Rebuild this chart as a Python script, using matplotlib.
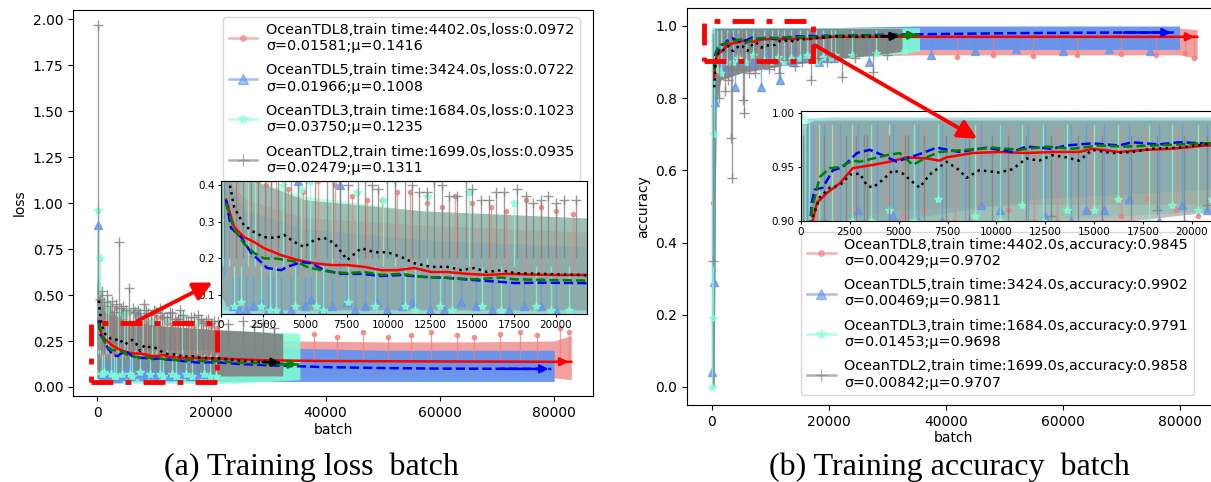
"""Training loss / accuracy per batch for the OceanTDL variants."""

import matplotlib.pyplot as plt
from matplotlib.lines import Line2D
from matplotlib.patches import Rectangle, FancyArrowPatch

plt.rcParams['font.family'] = ['DejaVu Sans']

# ---------------- data ----------------
names = ['OceanTDL8', 'OceanTDL5', 'OceanTDL3', 'OceanTDL2']
loss_labels = [
    'OceanTDL8,train time:4402.0s,loss:0.0972\nσ=0.01581;μ=0.1416',
    'OceanTDL5,train time:3424.0s,loss:0.0722\nσ=0.01966;μ=0.1008',
    'OceanTDL3,train time:1684.0s,loss:0.1023\nσ=0.03750;μ=0.1235',
    'OceanTDL2,train time:1699.0s,loss:0.0935\nσ=0.02479;μ=0.1311',
]
acc_labels = [
    'OceanTDL8,train time:4402.0s,accuracy:0.9845\nσ=0.00429;μ=0.9702',
    'OceanTDL5,train time:3424.0s,accuracy:0.9902\nσ=0.00469;μ=0.9811',
    'OceanTDL3,train time:1684.0s,accuracy:0.9791\nσ=0.01453;μ=0.9698',
    'OceanTDL2,train time:1699.0s,accuracy:0.9858\nσ=0.00842;μ=0.9707',
]

# loss: spread of the raw per-batch values (band) -------------------------
loss8_band_x = [0, 300, 1500, 5000, 12000, 22000, 35000, 50000, 65000, 80000, 83000]
loss8_band_lo = [0.06, 0.06, 0.05, 0.05, 0.05, 0.05, 0.05, 0.05, 0.05, 0.05, 0.04]
loss8_band_hi = [0.55, 0.42, 0.36, 0.31, 0.29, 0.27, 0.25, 0.245, 0.245, 0.25, 0.28]
loss5_band_x = [0, 300, 1500, 5000, 12000, 22000, 35000, 50000, 65000, 80000]
loss5_band_lo = [0.05, 0.04, 0.03, 0.03, 0.03, 0.03, 0.03, 0.03, 0.03, 0.03]
loss5_band_hi = [0.6, 0.42, 0.33, 0.28, 0.25, 0.23, 0.21, 0.2, 0.2, 0.2]
loss3_band_x = [0, 300, 1500, 5000, 12000, 22000, 30000, 35500]
loss3_band_lo = [0.05, 0.03, 0.02, 0.02, 0.02, 0.02, 0.03, 0.04]
loss3_band_hi = [0.9, 0.6, 0.42, 0.37, 0.33, 0.31, 0.3, 0.29]
loss2_band_x = [0, 300, 1500, 5000, 12000, 22000, 28000, 32500]
loss2_band_lo = [0.1, 0.07, 0.06, 0.06, 0.06, 0.06, 0.06, 0.06]
loss2_band_hi = [0.6, 0.5, 0.42, 0.36, 0.33, 0.31, 0.3, 0.29]

# loss: single outlying batches (marker end) and where their bar starts
loss8_spk_x = [600, 1000, 1700, 2200, 2700, 3300, 4000, 4900, 5800, 6800, 7800, 8700, 9600,
               10500, 11300, 12300, 13200, 14000, 15000, 16100, 17000, 18200, 19100, 20000,
               21000, 38000, 42000, 46500, 51000, 55000, 58500, 63000, 66000, 70500, 74000,
               77000, 81000, 82600]
loss8_spk_y = [0.5, 0.45, 0.42, 0.41, 0.4, 0.43, 0.39, 0.38, 0.41, 0.4, 0.37, 0.36, 0.36,
               0.38, 0.38, 0.35, 0.34, 0.37, 0.35, 0.34, 0.33, 0.36, 0.34, 0.33, 0.32, 0.29,
               0.27, 0.3, 0.27, 0.28, 0.3, 0.28, 0.27, 0.29, 0.3, 0.28, 0.32, 0.3]
loss8_spk_base = 0.15
loss5_spk_x = [200, 700, 1100, 1500, 1900, 2400, 2800, 3100, 3600, 4200, 4600, 5000, 5400,
               6000, 6600, 7100, 7500, 8000, 8600, 9300, 9900, 10800, 11400, 12500, 13300,
               14300, 15200, 16200, 17200, 18100, 19100, 20000]
loss5_spk_y = [0.88, 0.07, 0.06, 0.06, 0.07, 0.08, 0.06, 0.05, 0.05, 0.06, 0.41, 0.07, 0.09,
               0.06, 0.07, 0.4, 0.08, 0.06, 0.07, 0.08, 0.06, 0.07, 0.08, 0.06, 0.06, 0.08,
               0.07, 0.06, 0.06, 0.07, 0.07, 0.06]
loss5_spk_base = 0.15
loss3_spk_x = [100, 500, 800, 1200, 1600, 2000, 2400, 2900, 3300, 3700, 4400, 4800, 5300,
               5700, 6100, 6600, 7600, 8100, 9200, 9700, 10400, 11000, 11600, 12300, 13100,
               13800, 14800, 15600, 16700, 17500, 18800, 19700, 20800]
loss3_spk_y = [0.96, 0.7, 0.07, 0.08, 0.45, 0.42, 0.07, 0.06, 0.06, 0.4, 0.07, 0.39, 0.41,
               0.07, 0.06, 0.42, 0.08, 0.38, 0.07, 0.36, 0.42, 0.07, 0.06, 0.37, 0.07, 0.06,
               0.38, 0.07, 0.06, 0.35, 0.07, 0.06, 0.06]
loss3_spk_base = 0.18
loss2_spk_x = [150, 450, 900, 1300, 1800, 2200, 2600, 3000, 3400, 3850, 4200, 4600, 5100,
               5600, 6300, 6700, 7100, 7600, 8200, 8600, 9000, 9400, 9900, 10400, 11000, 11400,
               11800, 12300, 12700, 13200, 13600, 14100, 14600, 15000, 15500, 16000, 16400,
               16900, 17700, 18200, 18600, 19100, 19500, 20000, 20500, 21200, 23000, 25500,
               27500, 29000, 31000]
loss2_spk_y = [1.97, 0.48, 0.52, 0.46, 0.5, 0.44, 0.47, 0.41, 0.45, 0.79, 0.43, 0.44, 0.42,
               0.54, 0.43, 0.41, 0.42, 0.4, 0.45, 0.42, 0.4, 0.39, 0.42, 0.41, 0.43, 0.4,
               0.38, 0.38, 0.41, 0.4, 0.37, 0.37, 0.42, 0.39, 0.36, 0.36, 0.38, 0.38, 0.39,
               0.37, 0.35, 0.36, 0.37, 0.35, 0.36, 0.36, 0.34, 0.36, 0.33, 0.35, 0.32]
loss2_spk_base = 0.2

# loss: running mean
loss8_mean_x = [300, 780, 1380, 1970, 2570, 3590, 4550, 5560, 6580, 7540, 8550, 9570, 10530,
                11540, 12560, 13520, 14710, 15900, 17100, 18500, 20000, 21500, 25000, 30000,
                40000, 50000, 60000, 70000, 80000, 83000]
loss8_mean_y = [0.36, 0.286, 0.258, 0.245, 0.228, 0.209, 0.196, 0.187, 0.182, 0.182, 0.177,
                0.168, 0.168, 0.174, 0.163, 0.163, 0.158, 0.155, 0.158, 0.156, 0.155, 0.155,
                0.15, 0.145, 0.141, 0.14, 0.139, 0.138, 0.137, 0.137]
loss5_mean_x = [300, 600, 1200, 1800, 2390, 2750, 3590, 3950, 4780, 5380, 6160, 7180, 8370,
                9570, 10770, 11960, 13520, 15130, 16750, 17520, 19000, 21500, 25000, 30000,
                40000, 50000, 60000, 70000, 79500]
loss5_mean_y = [0.36, 0.283, 0.258, 0.215, 0.19, 0.174, 0.168, 0.177, 0.19, 0.187, 0.168,
                0.158, 0.158, 0.152, 0.155, 0.15, 0.147, 0.141, 0.136, 0.133, 0.134, 0.133,
                0.125, 0.118, 0.108, 0.103, 0.1, 0.099, 0.098]
loss3_mean_x = [300, 780, 1380, 1970, 2570, 3230, 3950, 4550, 5140, 5560, 6580, 7540, 8550,
                9570, 10770, 11960, 13520, 15130, 16750, 17520, 19000, 21500, 25000, 30000, 35500]
loss3_mean_y = [0.35, 0.28, 0.24, 0.215, 0.2, 0.2, 0.195, 0.19, 0.177, 0.172, 0.163, 0.16,
                0.163, 0.155, 0.158, 0.15, 0.147, 0.143, 0.148, 0.143, 0.142, 0.14, 0.133,
                0.127, 0.122]
loss2_mean_x = [300, 480, 780, 1380, 1970, 2570, 3290, 3770, 4370, 4970, 5560, 6160, 6760,
                7540, 8370, 9150, 9930, 10770, 11540, 12560, 13520, 14350, 15130, 15900,
                16750, 17520, 19000, 21500, 25000, 28500, 32500]
loss2_mean_y = [0.47, 0.414, 0.34, 0.29, 0.272, 0.258, 0.256, 0.264, 0.245, 0.231, 0.25,
                0.256, 0.242, 0.196, 0.228, 0.217, 0.217, 0.204, 0.187, 0.177, 0.177, 0.168,
                0.174, 0.163, 0.168, 0.16, 0.158, 0.155, 0.145, 0.138, 0.132]

# accuracy: band ---------------------------------------------------------
acc8_band_x = [0, 350, 700, 1500, 5000, 12000, 22000, 35000, 50000, 65000, 80000, 83000]
acc8_band_lo = [0.0, 0.0, 0.82, 0.9, 0.91, 0.915, 0.915, 0.92, 0.92, 0.92, 0.92, 0.91]
acc8_band_hi = [0.95, 0.99, 0.99, 0.994, 0.994, 0.994, 0.994, 0.994, 0.994, 0.994, 0.994, 0.99]
acc5_band_x = [0, 350, 700, 1500, 5000, 12000, 22000, 35000, 50000, 65000, 80000]
acc5_band_lo = [0.0, 0.0, 0.82, 0.88, 0.9, 0.92, 0.93, 0.935, 0.935, 0.935, 0.935]
acc5_band_hi = [0.95, 0.995, 0.995, 0.996, 0.996, 0.996, 0.996, 1.0, 1.0, 1.0, 1.0]
acc3_band_x = [0, 350, 700, 1500, 5000, 12000, 22000, 30000, 35500]
acc3_band_lo = [0.0, 0.0, 0.75, 0.85, 0.88, 0.9, 0.91, 0.92, 0.93]
acc3_band_hi = [1.0, 0.995, 0.995, 0.995, 0.995, 0.995, 0.995, 0.995, 0.995]
acc2_band_x = [0, 350, 700, 1500, 5000, 12000, 22000, 28000, 32500]
acc2_band_lo = [0.0, 0.0, 0.78, 0.85, 0.87, 0.89, 0.91, 0.92, 0.93]
acc2_band_hi = [0.99, 0.99, 0.993, 0.993, 0.993, 0.993, 0.993, 0.993, 0.993]

# accuracy: outlying batches
acc8_spk_x = [100, 800, 1700, 2700, 3600, 4400, 5200, 6300, 7900, 9100, 10600, 11900, 13100,
              14800, 16400, 17700, 19200, 20300, 42000, 48000, 55000, 62400, 70000, 76000,
              80900, 82500]
acc8_spk_y = [0.51, 0.9, 0.89, 0.91, 0.9, 0.92, 0.905, 0.91, 0.9, 0.915, 0.91, 0.9, 0.9,
              0.91, 0.905, 0.92, 0.91, 0.905, 0.915, 0.92, 0.918, 0.92, 0.922, 0.92, 0.925, 0.91]
acc8_spk_base = 0.985
acc5_spk_x = [0, 300, 600, 1200, 2000, 2900, 3900, 4700, 6000, 7200, 8400, 9200, 10200, 11600,
              12500, 13800, 14600, 15500, 16800, 18300, 19500, 20800, 26800, 37400, 45000,
              52000, 60000, 68000, 75000]
acc5_spk_y = [0.04, 0.29, 0.79, 0.9, 0.88, 0.91, 0.83, 0.905, 0.9, 0.9, 0.83, 0.915, 0.91,
              0.85, 0.905, 0.9, 0.91, 0.91, 0.92, 0.9, 0.915, 0.91, 0.9, 0.92, 0.93, 0.935,
              0.93, 0.935, 0.93]
acc5_spk_base = 0.99
acc3_spk_x = [50, 200, 400, 900, 1600, 2600, 3600, 4500, 5800, 7000, 8900, 10200, 11300,
              12400, 13600, 15000, 16200, 17800, 19000, 20300, 21000, 24000, 28000, 33000]
acc3_spk_y = [0.0, 0.19, 0.7, 0.88, 0.87, 0.9, 0.9, 0.91, 0.9, 0.92, 0.905, 0.9, 0.915,
              0.9, 0.91, 0.91, 0.92, 0.9, 0.915, 0.91, 0.92, 0.92, 0.925, 0.93]
acc3_spk_base = 0.99
acc2_spk_x = [100, 1200, 2300, 2800, 3250, 3400, 4500, 5300, 5500, 6300, 7400, 8600, 9800,
              10600, 11500, 12800, 14200, 15400, 16900, 18200, 19600, 20800, 22200, 24500,
              27500, 30000]
acc2_spk_y = [0.35, 0.8, 0.82, 0.85, 0.69, 0.58, 0.88, 0.795, 0.76, 0.87, 0.87, 0.9, 0.88,
              0.89, 0.87, 0.905, 0.89, 0.9, 0.85, 0.91, 0.9, 0.915, 0.86, 0.91, 0.873, 0.92]
acc2_spk_base = 0.98

# accuracy: running mean
acc8_mean_x = [400, 610, 820, 1330, 1990, 2650, 3680, 4540, 5410, 6430, 7090, 7450, 8780,
               10150, 11530, 12860, 14240, 14900, 16280, 17660, 18980, 20710, 25000, 30000,
               40000, 50000, 60000, 70000, 80000, 83000]
acc8_mean_y = [0.86, 0.901, 0.917, 0.926, 0.935, 0.949, 0.952, 0.955, 0.959, 0.958, 0.956,
               0.959, 0.963, 0.964, 0.963, 0.964, 0.964, 0.967, 0.964, 0.966, 0.967, 0.970,
               0.970, 0.970, 0.970, 0.970, 0.970, 0.970, 0.970, 0.970]
acc5_mean_x = [400, 550, 700, 1120, 1630, 2140, 2860, 3520, 4180, 4900, 5560, 6220, 6940,
               8110, 9490, 10820, 11530, 12860, 13570, 14900, 16280, 16940, 18320, 19340,
               20710, 25000, 30000, 40000, 50000, 60000, 70000, 79000]
acc5_mean_y = [0.88, 0.917, 0.929, 0.931, 0.947, 0.95, 0.963, 0.966, 0.961, 0.955, 0.959,
               0.963, 0.968, 0.964, 0.968, 0.964, 0.969, 0.967, 0.970, 0.972, 0.970, 0.973,
               0.971, 0.973, 0.972, 0.974, 0.976, 0.978, 0.980, 0.981, 0.982, 0.982]
acc3_mean_x = [400, 560, 970, 1480, 1990, 2650, 3010, 4390, 5050, 5720, 6430, 7090, 8470,
               9800, 11170, 12550, 13880, 15260, 16630, 17970, 19340, 20710, 25000, 30000, 35500]
acc3_mean_y = [0.88, 0.911, 0.941, 0.949, 0.95, 0.956, 0.955, 0.961, 0.963, 0.952, 0.959,
               0.964, 0.966, 0.968, 0.966, 0.969, 0.967, 0.970, 0.969, 0.970, 0.971, 0.972,
               0.973, 0.974, 0.975]
acc2_mean_x = [400, 610, 970, 1480, 1990, 2500, 3010, 3370, 3680, 4180, 4700, 5210, 5720,
               6070, 6580, 7450, 8110, 8470, 9130, 10150, 10820, 11530, 12190, 12860, 13570,
               14240, 14900, 15920, 16940, 17970, 19340, 20710, 25000, 28500, 32500]
acc2_mean_y = [0.83, 0.904, 0.922, 0.931, 0.933, 0.943, 0.944, 0.933, 0.931, 0.938, 0.947,
               0.944, 0.936, 0.931, 0.943, 0.955, 0.947, 0.940, 0.947, 0.945, 0.948, 0.958,
               0.956, 0.961, 0.959, 0.956, 0.966, 0.963, 0.964, 0.967, 0.968, 0.971, 0.970,
               0.971, 0.972]

# ---------------- styles ----------------
raw_colors = ['#F08080', '#6495ED', '#7FFFD4', '#808080']
mean_colors = ['red', 'blue', 'green', 'black']
mean_styles = ['-', '--', '--', ':']
markers = ['o', '^', '*', '+']
marker_sizes = [3, 6, 6, 7]

loss_bands = [(loss8_band_x, loss8_band_lo, loss8_band_hi), (loss5_band_x, loss5_band_lo, loss5_band_hi),
              (loss3_band_x, loss3_band_lo, loss3_band_hi), (loss2_band_x, loss2_band_lo, loss2_band_hi)]
loss_spikes = [(loss8_spk_x, loss8_spk_y, loss8_spk_base), (loss5_spk_x, loss5_spk_y, loss5_spk_base),
               (loss3_spk_x, loss3_spk_y, loss3_spk_base), (loss2_spk_x, loss2_spk_y, loss2_spk_base)]
loss_means = [(loss8_mean_x, loss8_mean_y), (loss5_mean_x, loss5_mean_y),
              (loss3_mean_x, loss3_mean_y), (loss2_mean_x, loss2_mean_y)]
acc_bands = [(acc8_band_x, acc8_band_lo, acc8_band_hi), (acc5_band_x, acc5_band_lo, acc5_band_hi),
             (acc3_band_x, acc3_band_lo, acc3_band_hi), (acc2_band_x, acc2_band_lo, acc2_band_hi)]
acc_spikes = [(acc8_spk_x, acc8_spk_y, acc8_spk_base), (acc5_spk_x, acc5_spk_y, acc5_spk_base),
              (acc3_spk_x, acc3_spk_y, acc3_spk_base), (acc2_spk_x, acc2_spk_y, acc2_spk_base)]
acc_means = [(acc8_mean_x, acc8_mean_y), (acc5_mean_x, acc5_mean_y),
             (acc3_mean_x, acc3_mean_y), (acc2_mean_x, acc2_mean_y)]

fill_alpha_main = [0.75, 0.95, 0.85, 0.9]
fill_alpha_inset = [0.45, 0.45, 0.5, 0.5]


def draw_runs(ax, bands, spikes, means, fill_alpha, lw, arrows):
    for i in range(4):
        bx, blo, bhi = bands[i]
        ax.fill_between(bx, blo, bhi, color=raw_colors[i], alpha=fill_alpha[i], lw=0, zorder=1)
    for i in range(4):
        sx, sy, base = spikes[i]
        ax.vlines(sx, base, sy, color=raw_colors[i], alpha=0.75, lw=1.0, zorder=2)
        ax.plot(sx, sy, ls='none', marker=markers[i], ms=marker_sizes[i],
                color=raw_colors[i], alpha=0.8, zorder=2)
    for i in range(4):
        mx, my = means[i]
        ax.plot(mx, my, ls=mean_styles[i], color=mean_colors[i], lw=lw, zorder=3)
        if arrows:
            ax.annotate('', xy=(mx[-1], my[-1]), xytext=(mx[-2], my[-2]),
                        arrowprops=dict(arrowstyle='-|>', color=mean_colors[i],
                                        lw=lw, mutation_scale=12), zorder=3)


def legend_handles():
    return [Line2D([], [], color=raw_colors[i], marker=markers[i], ms=marker_sizes[i] + 1,
                   lw=1.8, alpha=0.6) for i in range(4)]


def zoom_marks(fig, ax, box, arrow_from, arrow_to):
    (x0, y0), (x1, y1) = box
    ax.add_patch(Rectangle((x0, y0), x1 - x0, y1 - y0, fill=False, ec='red', lw=3.5,
                           ls=(0, (4.5, 2.5, 1.2, 2.5)), zorder=6, clip_on=False))
    arr = FancyArrowPatch(arrow_from, arrow_to, transform=ax.transData, arrowstyle='-|>',
                          mutation_scale=28, color='red', lw=2.8, zorder=10)
    fig.add_artist(arr)


fig = plt.figure(figsize=(12.11, 4.82), dpi=100)

# ---------------- (a) loss ----------------
ax1 = fig.add_axes([0.0603, 0.1784, 0.4294, 0.8008])
draw_runs(ax1, loss_bands, loss_spikes, loss_means, fill_alpha_main, 1.8, True)
ax1.set_xlim(-4200, 86800)
ax1.set_ylim(-0.049, 2.049)
ax1.set_xticks([0, 20000, 40000, 60000, 80000])
ax1.set_yticks([0, 0.25, 0.5, 0.75, 1.0, 1.25, 1.5, 1.75, 2.0])
ax1.tick_params(labelsize=10)
ax1.set_xlabel('batch', fontsize=10, labelpad=2)
ax1.set_ylabel('loss', fontsize=10)
ax1.legend(legend_handles(), loss_labels, loc='upper left', bbox_to_anchor=(0.288, 0.982),
           borderaxespad=0, fontsize=10.4, labelspacing=0.72, borderpad=0.4,
           handlelength=2.0, handletextpad=0.6)
zoom_marks(fig, ax1, ((-1000, 0.025), (21000, 0.35)), (6650, 0.353), (20650, 0.575))

in1 = fig.add_axes([0.1825, 0.3485, 0.3022, 0.2759])
draw_runs(in1, loss_bands, loss_spikes, loss_means, fill_alpha_inset, 1.8, False)
in1.set_xlim(0, 21850)
in1.set_ylim(0.0485, 0.411)
in1.set_xticks([0, 2500, 5000, 7500, 10000, 12500, 15000, 17500, 20000])
in1.set_yticks([0.1, 0.2, 0.3, 0.4])
in1.tick_params(labelsize=7.5, length=2.5, pad=2)

# ---------------- (b) accuracy ----------------
ax2 = fig.add_axes([0.5673, 0.1598, 0.4401, 0.8237])
draw_runs(ax2, acc_bands, acc_spikes, acc_means, fill_alpha_main, 1.8, True)
ax2.set_xlim(-4270, 86900)
ax2.set_ylim(-0.05, 1.05)
ax2.set_xticks([0, 20000, 40000, 60000, 80000])
ax2.set_yticks([0, 0.2, 0.4, 0.6, 0.8, 1.0])
ax2.tick_params(labelsize=10)
ax2.set_xlabel('batch', fontsize=10, labelpad=2)
ax2.set_ylabel('accuracy', fontsize=10)
ax2.legend(legend_handles(), acc_labels, loc='upper left', bbox_to_anchor=(0.214, 0.436),
           borderaxespad=0, fontsize=10.4, labelspacing=0.72, borderpad=0.4,
           handlelength=2.0, handletextpad=0.6)
zoom_marks(fig, ax2, ((-1400, 0.903), (17300, 1.014)), (17260, 0.95), (45800, 0.684))

in2 = fig.add_axes([0.6614, 0.5415, 0.3518, 0.2282])
draw_runs(in2, acc_bands, acc_spikes, acc_means, fill_alpha_inset, 1.8, False)
in2.set_xlim(0, 21800)
in2.set_ylim(0.9, 1.002)
in2.set_xticks([0, 2500, 5000, 7500, 10000, 12500, 15000, 17500, 20000])
in2.set_yticks([0.90, 0.95, 1.00])
in2.set_yticklabels(['0.90', '0.95', '1.00'])
in2.tick_params(labelsize=7.5, length=2.5, pad=2)

# captions
fig.text(311 / 1211, 1 - 467 / 482, '(a) Training loss  batch', family='Liberation Serif',
         fontsize=23, ha='center', va='center')
fig.text(949 / 1211, 1 - 467 / 482, '(b) Training accuracy  batch', family='Liberation Serif',
         fontsize=23, ha='center', va='center')

fig.savefig('out.png', dpi=100)
